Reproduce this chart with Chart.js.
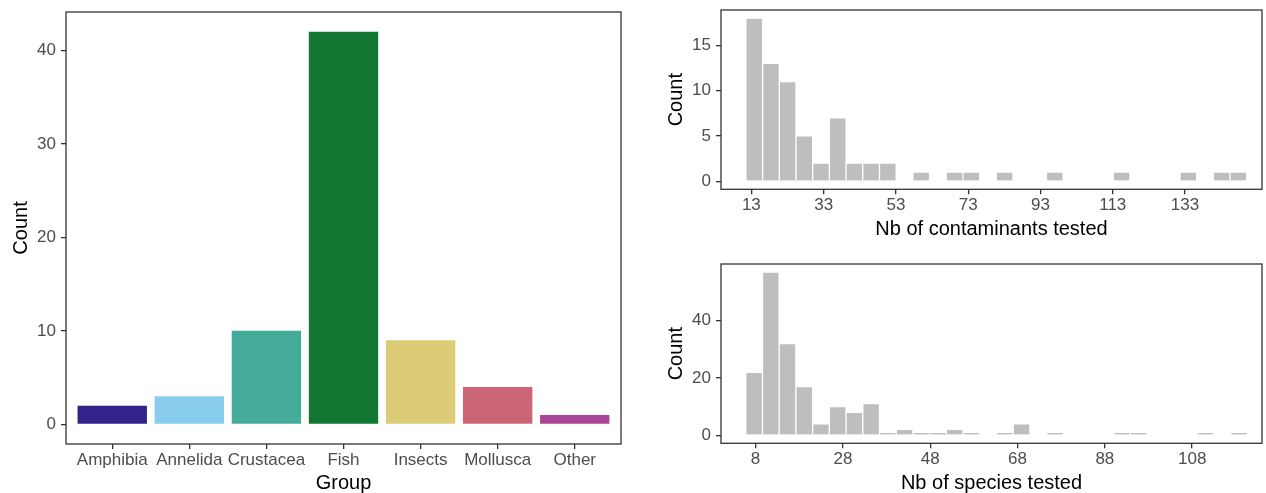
<!DOCTYPE html>
<html>
<head>
<meta charset="utf-8">
<script src="https://cdn.jsdelivr.net/npm/chart.js@4.4.1/dist/chart.umd.min.js"></script>
<style>
  html, body { margin: 0; padding: 0; background: #fff; }
  body { width: 1266px; height: 493px; position: relative; overflow: hidden; }
  canvas { position: absolute; }
</style>
</head>
<body>
<canvas id="groupChart" width="640" height="493" style="left:0;top:0"></canvas>
<canvas id="contamChart" width="626" height="247" style="left:640px;top:0"></canvas>
<canvas id="speciesChart" width="626" height="246" style="left:640px;top:247px"></canvas>
<script>
// Left panel: studies per taxonomic group
const groups = ['Amphibia', 'Annelida', 'Crustacea', 'Fish', 'Insects', 'Mollusca', 'Other'];
const groupCounts = [2, 3, 10, 42, 9, 4, 1];
const groupColors = ['#332288', '#88CCEE', '#44AA99', '#117733', '#DDCC77', '#CC6677', '#AA4499'];
const groupYTicks = [0, 10, 20, 30, 40];

// Top right: histogram of number of contaminants tested (bin centres + counts)
const contamBins = [13.80, 18.42, 23.04, 27.66, 32.28, 36.90, 41.52, 46.14, 50.76, 55.38,
                    60.00, 64.62, 69.24, 73.86, 78.48, 83.10, 87.72, 92.34, 96.96, 101.58,
                    106.20, 110.82, 115.44, 120.06, 124.68, 129.30, 133.92, 138.54, 143.16, 147.78];
const contamCounts = [18, 13, 11, 5, 2, 7, 2, 2, 2, 0,
                      1, 0, 1, 1, 0, 1, 0, 0, 1, 0,
                      0, 0, 1, 0, 0, 0, 1, 0, 1, 1];
const contamXTicks = [13, 33, 53, 73, 93, 113, 133];
const contamYTicks = [0, 5, 10, 15];

// Bottom right: histogram of number of species tested
const speciesBins = [7.66, 11.49, 15.32, 19.15, 22.98, 26.81, 30.64, 34.47, 38.30, 42.13,
                     45.96, 49.79, 53.62, 57.45, 61.28, 65.11, 68.94, 72.77, 76.60, 80.43,
                     84.26, 88.09, 91.92, 95.75, 99.58, 103.41, 107.24, 111.07, 114.90, 118.73];
const speciesCounts = [22, 57, 32, 17, 4, 10, 8, 11, 1, 2,
                       1, 1, 2, 1, 0, 1, 4, 0, 1, 0,
                       0, 0, 1, 1, 0, 0, 0, 1, 0, 1];
const speciesXTicks = [8, 28, 48, 68, 88, 108];
const speciesYTicks = [0, 20, 40];

const FONT = "'Liberation Sans', Arial, sans-serif";
const INK = '#333333';

// ggplot-ish panel border
const panelBox = {
    id: 'panelBox',
    afterDraw(chart) {
        const a = chart.chartArea, ctx = chart.ctx;
        ctx.save();
        ctx.strokeStyle = INK;
        ctx.lineWidth = 1.3;
        ctx.strokeRect(a.left, a.top, a.right - a.left, a.bottom - a.top);
        ctx.restore();
    }
};

function axis(opts) {
    return {
        type: 'linear',
        min: opts.min,
        max: opts.max,
        offset: false,
        afterBuildTicks: s => { s.ticks = opts.ticks.map(v => ({ value: v })); },
        afterFit: s => {
            if (opts.width) s.width = opts.width;
            if (opts.height) s.height = opts.height;
            // keep the chart area exactly where the layout padding puts it
            s.paddingTop = s.paddingBottom = s.paddingLeft = s.paddingRight = 0;
        },
        grid: { offset: false, drawOnChartArea: false, drawTicks: true, tickLength: 5, color: INK, lineWidth: 1.3 },
        border: { display: false },
        ticks: {
            autoSkip: false, maxRotation: 0, padding: opts.tickPad,
            color: '#4D4D4D', font: { family: FONT, size: 17 },
            callback: opts.label || (v => v)
        },
        title: {
            display: true, text: opts.title, color: '#000',
            font: { family: FONT, size: 20, lineHeight: 1 },
            padding: opts.titlePad
        }
    };
}

function baseOptions(padding, scales) {
    return {
        responsive: false,
        animation: false,
        devicePixelRatio: 1,
        layout: { padding: padding },
        plugins: { legend: { display: false }, tooltip: { enabled: false } },
        scales: scales
    };
}

new Chart(document.getElementById('groupChart'), {
    type: 'bar',
    data: {
        datasets: [{
            data: groups.map((g, i) => ({ x: i + 1, y: groupCounts[i] })),
            backgroundColor: groupColors,
            barPercentage: 0.9,
            categoryPercentage: 1
        }]
    },
    options: baseOptions({ top: 12, right: 19, left: 0, bottom: 0 }, {
        x: axis({ min: 0.4, max: 7.6, ticks: [1, 2, 3, 4, 5, 6, 7], height: 49, tickPad: 1,
                  label: v => groups[v - 1], title: 'Group', titlePad: { top: 0, bottom: 0 } }),
        y: axis({ min: -2.1, max: 44.1, ticks: groupYTicks, width: 66, tickPad: 5,
                  title: 'Count', titlePad: { top: 11, bottom: 0 } })
    }),
    plugins: [panelBox]
});

function histogram(id, bins, counts, xTicks, yTicks, xRange, yRange, padTop, xHeight, xTitle, xTitlePad) {
    new Chart(document.getElementById(id), {
        type: 'bar',
        data: {
            datasets: [{
                data: bins.map((b, i) => ({ x: b, y: counts[i] })),
                backgroundColor: '#BEBEBE',
                borderColor: '#FFFFFF',
                borderWidth: 1,
                barPercentage: 1,
                categoryPercentage: 1
            }]
        },
        options: baseOptions({ top: padTop, right: 4, left: 0, bottom: 0 }, {
            x: axis({ min: xRange[0], max: xRange[1], ticks: xTicks, height: xHeight, tickPad: 1,
                      title: xTitle, titlePad: { top: 0, bottom: xTitlePad } }),
            y: axis({ min: yRange[0], max: yRange[1], ticks: yTicks, width: 81, tickPad: 5,
                      title: 'Count', titlePad: { top: 26, bottom: 0 } })
        }),
        plugins: [panelBox]
    });
}

histogram('contamChart', contamBins, contamCounts, contamXTicks, contamYTicks,
          [4.6, 154.3], [-0.9, 18.9], 10, 57.7, 'Nb of contaminants tested', 8);
histogram('speciesChart', speciesBins, speciesCounts, speciesXTicks, speciesYTicks,
          [0.08, 124.0], [-2.85, 59.85], 17, 49.7, 'Nb of species tested', 0);
</script>
</body>
</html>
